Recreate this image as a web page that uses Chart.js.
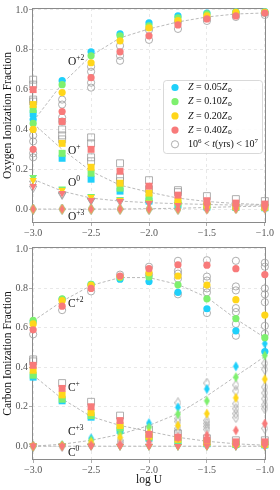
<!DOCTYPE html>
<html>
<head>
<meta charset="utf-8">
<script src="https://cdn.jsdelivr.net/npm/chart.js@4.4.1/dist/chart.umd.min.js"></script>
<style>
  html, body { margin: 0; padding: 0; background: #fff; }
  canvas { display: block; }
</style>
</head>
<body>
<canvas id="oxygen" width="280" height="240"></canvas>
<canvas id="carbon" width="280" height="250"></canvas>
<script>
'use strict';

// shared axes
var logU = [-3.0, -2.75, -2.5, -2.25, -2.0, -1.75, -1.5, -1.25, -1.0];
var xTicks = [-3.0, -2.5, -2.0, -1.5, -1.0];
var yTicks = [0.0, 0.2, 0.4, 0.6, 0.8, 1.0];
var zLabels = ['0.05', '0.10', '0.20', '0.40'];
var ageLabel = ['10', '6', '10', '7'];

// oxygen fractions, rows = Z 0.05, 0.10, 0.20, 0.40
var oxyO2 = [
    [0.45, 0.645, 0.79, 0.88, 0.935, 0.97, 0.985, 0.99, 0.992],
    [0.43, 0.625, 0.77, 0.87, 0.92, 0.96, 0.98, 0.99, 0.99],
    [0.40, 0.585, 0.735, 0.845, 0.91, 0.947, 0.97, 0.988, 0.99],
    [0.30, 0.49, 0.66, 0.79, 0.87, 0.925, 0.955, 0.97, 0.985]
];
var oxyO1 = [
    [0.48, 0.255, 0.15, 0.09, 0.04, 0.02, 0.01, 0.008, 0.006],
    [0.50, 0.28, 0.18, 0.105, 0.057, 0.03, 0.015, 0.01, 0.008],
    [0.525, 0.33, 0.21, 0.13, 0.08, 0.04, 0.02, 0.012, 0.01],
    [0.60, 0.44, 0.30, 0.19, 0.115, 0.07, 0.042, 0.03, 0.025]
];
var oxyO0 = [
    [0.16, 0.10, 0.065, 0.048, 0.035, 0.025, 0.018, 0.013, 0.01],
    [0.16, 0.103, 0.065, 0.048, 0.035, 0.025, 0.018, 0.013, 0.01],
    [0.145, 0.095, 0.06, 0.045, 0.032, 0.022, 0.016, 0.012, 0.01],
    [0.115, 0.08, 0.045, 0.04, 0.03, 0.02, 0.015, 0.01, 0.01]
];
var oxyO3 = [
    [0, 0, 0, 0, 0, 0, 0.002, 0.004, 0.006],
    [0, 0, 0, 0, 0, 0, 0.002, 0.003, 0.005],
    [0, 0, 0, 0, 0, 0, 0.001, 0.002, 0.004],
    [0, 0, 0, 0, 0, 0, 0, 0.002, 0.003]
];
// open markers, 10^6 < t < 10^7, one list per logU
var oxyO2Open = [[0.37, 0.34, 0.28, 0.26], [0.55, 0.525, 0.46, 0.44], [0.715, 0.69, 0.635, 0.61], [0.82, 0.77, 0.745], [0.90, 0.85], [0.94, 0.905], [0.96, 0.945], [0.98, 0.965], [0.985, 0.975]];
var oxyO1Open = [[0.65, 0.625, 0.55, 0.54], [0.40, 0.37, 0.35], [0.36, 0.33, 0.26, 0.24], [0.23, 0.16, 0.14], [0.145, 0.10], [0.095, 0.085], [0.065], [0.05], [0.04]];
var oxyO0Open = [[0.13, 0.105], [0.075, 0.07], [0.045, 0.042], [0.038], [0.03], [0.022], [0.018], [0.014], [0.012]];
var oxyO3Open = [[0], [0], [0], [0], [0], [0], [0.002], [0.004], [0.006]];
// dashed model curves
var oxyO2Model = [0.44, 0.63, 0.77, 0.86, 0.905, 0.94, 0.965, 0.98, 0.985];
var oxyO1Model = [0.43, 0.30, 0.19, 0.12, 0.085, 0.055, 0.038, 0.028, 0.022];
var oxyO0Model = [0.15, 0.09, 0.055, 0.04, 0.032, 0.027, 0.023, 0.02, 0.02];
var oxyO3Model = [0.0, 0.0, 0.0, 0.0, 0.002, 0.004, 0.008, 0.012, 0.015];

// carbon fractions
var carbC2 = [
    [0.63, 0.745, 0.82, 0.847, 0.835, 0.78, 0.697, 0.585, 0.48],
    [0.638, 0.747, 0.82, 0.855, 0.858, 0.818, 0.747, 0.647, 0.55],
    [0.62, 0.738, 0.815, 0.86, 0.88, 0.863, 0.817, 0.743, 0.665],
    [0.59, 0.71, 0.80, 0.863, 0.90, 0.92, 0.918, 0.90, 0.87]
];
var carbC1 = [
    [0.35, 0.23, 0.147, 0.08, 0.04, 0.025, 0.012, 0.008, 0.006],
    [0.36, 0.238, 0.155, 0.093, 0.045, 0.03, 0.015, 0.01, 0.008],
    [0.385, 0.26, 0.17, 0.105, 0.05, 0.035, 0.018, 0.012, 0.01],
    [0.41, 0.293, 0.20, 0.13, 0.06, 0.045, 0.03, 0.022, 0.022]
];
var carbC3 = [
    [0.0, 0.005, 0.04, 0.08, 0.117, 0.197, 0.29, 0.405, 0.52],
    [0.0, 0.004, 0.03, 0.065, 0.095, 0.163, 0.23, 0.35, 0.46],
    [0.0, 0.003, 0.02, 0.045, 0.067, 0.105, 0.165, 0.245, 0.34],
    [0.0, 0.0, 0.005, 0.01, 0.02, 0.045, 0.055, 0.08, 0.115]
];
var carbC0 = [
    [0.004, 0.002, 0.001, 0, 0, 0, 0, 0, 0],
    [0.004, 0.002, 0.001, 0, 0, 0, 0, 0, 0],
    [0.003, 0.002, 0.001, 0, 0, 0, 0, 0, 0],
    [0.003, 0.001, 0.001, 0, 0, 0, 0, 0, 0]
];
var carbC2Open = [[0.567], [0.69], [0.785], [0.87], [0.91, 0.87], [0.94, 0.89, 0.875, 0.85, 0.77], [0.943, 0.86, 0.84, 0.80, 0.78, 0.675], [0.94, 0.81, 0.79, 0.70, 0.68, 0.62, 0.56], [0.93, 0.91, 0.80, 0.77, 0.73, 0.61, 0.57]];
var carbC1Open = [[0.44, 0.43], [0.32], [0.225], [0.155], [0.085], [0.065], [0.04], [0.03], [0.03]];
var carbC3Open = [[0.0], [0.0], [0.01], [0.03, 0.02], [0.06, 0.045], [0.22, 0.14, 0.125, 0.09, 0.075], [0.32, 0.13, 0.115, 0.10, 0.085], [0.31, 0.28, 0.215, 0.19, 0.165, 0.145], [0.42, 0.39, 0.30, 0.27, 0.24, 0.21, 0.19, 0.09]];
var carbC0Open = [[0], [0], [0], [0], [0], [0], [0], [0], [0]];
var carbC2Model = [0.635, 0.735, 0.815, 0.855, 0.855, 0.82, 0.755, 0.645, 0.55];
var carbC1Model = [0.36, 0.24, 0.15, 0.105, 0.075, 0.045, 0.025, 0.012, 0.005];
var carbC3Model = [0.0, 0.01, 0.03, 0.06, 0.105, 0.165, 0.255, 0.355, 0.455];
var carbC0Model = [0, 0, 0, 0, 0, 0, 0, 0, 0];

// ion labels (superscript, y value) placed at logU = labelX
var labelX = -2.70;
var oxyIons = ['+2', '+', '0', '+3'];
var oxyLabelY = [0.74, 0.29, 0.13, -0.04];
var carbIons = ['+2', '+', '+3', '0'];
var carbLabelY = [0.72, 0.295, 0.07, -0.035];

var SERIF = '"Liberation Serif", "DejaVu Serif", serif';
var zColors = ['#1fd0fa', '#7ef06e', '#ffd61a', '#f87a7a'];
var openColor = '#9b9b9b';

function diamond(fill, stroke) {
    var c = document.createElement('canvas');
    c.width = 7;
    c.height = 11;
    var g = c.getContext('2d');
    g.beginPath();
    g.moveTo(3.5, 0.6);
    g.lineTo(6.4, 5.5);
    g.lineTo(3.5, 10.4);
    g.lineTo(0.6, 5.5);
    g.closePath();
    if (fill) { g.fillStyle = fill; g.fill(); }
    if (stroke) { g.strokeStyle = stroke; g.lineWidth = 0.8; g.stroke(); }
    return c;
}

function markerStyle(shape, fill, stroke) {
    if (shape === 'circle') return {pointStyle: 'circle', pointRadius: 3.6, pointRotation: 0};
    if (shape === 'square') return {pointStyle: 'rect', pointRadius: 4.9, pointRotation: 0};
    if (shape === 'tri') return {pointStyle: 'triangle', pointRadius: 4.3, pointRotation: 180};
    return {pointStyle: diamond(fill, stroke), pointRadius: 4, pointRotation: 0};
}

function pts(vals) {
    return vals.map(function (v, i) { return {x: logU[i], y: v}; });
}

function openPts(lists) {
    var out = [];
    lists.forEach(function (l, i) {
        l.forEach(function (v) { out.push({x: logU[i], y: v}); });
    });
    return out;
}

function buildDatasets(ions) {
    var ds = [];
    ions.forEach(function (ion) {
        ds.push({
            data: pts(ion.model), showLine: true, pointRadius: 0,
            borderColor: '#a8a8a8', borderWidth: 0.8, borderDash: [3, 2],
            order: 30, clip: false
        });
        var o = markerStyle(ion.shape, null, openColor);
        ds.push(Object.assign({
            data: openPts(ion.open), backgroundColor: 'rgba(255,255,255,0)',
            borderColor: openColor, borderWidth: 0.8, order: 20, clip: false
        }, o));
        ion.rows.forEach(function (row, k) {
            var m = markerStyle(ion.shape, zColors[k], null);
            ds.push(Object.assign({
                data: pts(row), backgroundColor: zColors[k], borderWidth: 0,
                order: 10 - k, clip: false
            }, m));
        });
    });
    return ds;
}

function drawRuns(ctx, x, y, runs) {
    runs.forEach(function (r) {
        ctx.font = (r.italic ? 'italic ' : '') + r.size + 'px ' + SERIF;
        ctx.fillText(r.t, x, y - (r.dy || 0));
        x += ctx.measureText(r.t).width;
    });
    return x;
}

var framePlugin = {
    id: 'frame',
    beforeDatasetsDraw: function (chart) {
        var a = chart.chartArea, ctx = chart.ctx;
        ctx.save();
        ctx.strokeStyle = '#8a8a8a';
        ctx.lineWidth = 1;
        ctx.strokeRect(a.left + 0.5, a.top + 0.5, a.right - a.left - 1, a.bottom - a.top - 1);
        ctx.restore();
    }
};

var ionLabelPlugin = {
    id: 'ionLabels',
    afterDatasetsDraw: function (chart, args, opts) {
        var ctx = chart.ctx, xs = chart.scales.x, ys = chart.scales.y;
        ctx.save();
        ctx.fillStyle = '#111';
        ctx.textBaseline = 'middle';
        ctx.textAlign = 'left';
        opts.ions.forEach(function (sup, i) {
            var px = xs.getPixelForValue(labelX);
            var py = ys.getPixelForValue(opts.ys[i]);
            drawRuns(ctx, px, py, [{t: opts.element, size: 11.5}, {t: sup, size: 7.5, dy: 4}]);
        });
        ctx.restore();
    }
};

var legendPlugin = {
    id: 'zLegend',
    afterDraw: function (chart, args, opts) {
        if (!opts.show) return;
        var a = chart.chartArea, ctx = chart.ctx;
        var w = 99, h = 73;
        var left = a.right - 4 - w, top = a.top + 72;
        ctx.save();
        ctx.beginPath();
        ctx.roundRect(left + 0.5, top + 0.5, w, h, 3);
        ctx.fillStyle = 'rgba(255,255,255,0.85)';
        ctx.fill();
        ctx.strokeStyle = '#cfcfcf';
        ctx.lineWidth = 0.8;
        ctx.stroke();
        ctx.textBaseline = 'middle';
        ctx.textAlign = 'left';
        ctx.fillStyle = '#111';
        var mx = left + 12, tx = left + 25;
        zLabels.forEach(function (z, k) {
            var y = top + 7.5 + k * 14.2;
            ctx.beginPath();
            ctx.arc(mx, y, 3.6, 0, Math.PI * 2);
            ctx.fillStyle = zColors[k];
            ctx.fill();
            ctx.fillStyle = '#111';
            drawRuns(ctx, tx, y, [
                {t: 'Z', size: 10, italic: true}, {t: ' = ' + z, size: 10},
                {t: 'Z', size: 10, italic: true}, {t: '\u2299', size: 6, dy: -2.5}
            ]);
        });
        var y5 = top + 7.5 + 4 * 14.2;
        ctx.beginPath();
        ctx.arc(mx, y5, 3.6, 0, Math.PI * 2);
        ctx.strokeStyle = openColor;
        ctx.lineWidth = 0.8;
        ctx.stroke();
        drawRuns(ctx, tx, y5, [
            {t: ageLabel[0], size: 10}, {t: ageLabel[1], size: 7, dy: 3.5},
            {t: ' < ', size: 10}, {t: 't', size: 10, italic: true},
            {t: '(yrs) < ' + ageLabel[2], size: 10}, {t: ageLabel[3], size: 7, dy: 3.5}
        ]);
        ctx.restore();
    }
};

function makePanel(id, ions, yTitle, showXTitle, xAxisHeight, padTop, labels, showLegend) {
    var tickFont = {family: SERIF, size: 10};
    return new Chart(document.getElementById(id).getContext('2d'), {
        type: 'scatter',
        data: {datasets: buildDatasets(ions)},
        plugins: [framePlugin, ionLabelPlugin, legendPlugin],
        options: {
            responsive: false,
            animation: false,
            events: [],
            layout: {padding: {top: padTop, right: 14, left: 0, bottom: 0}},
            plugins: {
                legend: {display: false},
                tooltip: {enabled: false},
                ionLabels: labels,
                zLegend: {show: showLegend}
            },
            scales: {
                x: {
                    type: 'linear', min: -3.01, max: -0.99,
                    afterBuildTicks: function (s) { s.ticks = xTicks.map(function (v) { return {value: v}; }); },
                    afterFit: function (s) { s.height = xAxisHeight; },
                    grid: {color: '#e2e2e2', lineWidth: 0.8, tickColor: '#999', tickLength: 3, tickWidth: 0.8},
                    border: {display: false, dash: [3, 3]},
                    ticks: {
                        font: tickFont, color: '#555', padding: 1, maxRotation: 0,
                        callback: function (v) { return v.toFixed(1).replace('-', '\u2212'); }
                    },
                    title: {
                        display: showXTitle, text: 'log U', color: '#111',
                        font: {family: SERIF, size: 11.5}, padding: {top: 0, bottom: 3}
                    }
                },
                y: {
                    type: 'linear', min: -0.07, max: 1.01,
                    afterBuildTicks: function (s) { s.ticks = yTicks.map(function (v) { return {value: v}; }); },
                    afterFit: function (s) { s.width = 32; },
                    grid: {color: '#e2e2e2', lineWidth: 0.8, tickColor: '#999', tickLength: 3, tickWidth: 0.8},
                    border: {display: false, dash: [3, 3]},
                    ticks: {
                        font: tickFont, color: '#555', padding: 1,
                        callback: function (v) { return v.toFixed(1); }
                    },
                    title: {
                        display: true, text: yTitle, color: '#111',
                        font: {family: SERIF, size: 11.5}, padding: {top: 1, bottom: 0}
                    }
                }
            }
        }
    });
}

makePanel('oxygen', [
    {shape: 'circle', rows: oxyO2, open: oxyO2Open, model: oxyO2Model},
    {shape: 'square', rows: oxyO1, open: oxyO1Open, model: oxyO1Model},
    {shape: 'tri', rows: oxyO0, open: oxyO0Open, model: oxyO0Model},
    {shape: 'diamond', rows: oxyO3, open: oxyO3Open, model: oxyO3Model}
], 'Oxygen Ionization Fraction', false, 17, 8,
    {element: 'O', ions: oxyIons, ys: oxyLabelY}, true);

makePanel('carbon', [
    {shape: 'tri', rows: carbC0, open: carbC0Open, model: carbC0Model},
    {shape: 'circle', rows: carbC2, open: carbC2Open, model: carbC2Model},
    {shape: 'square', rows: carbC1, open: carbC1Open, model: carbC1Model},
    {shape: 'diamond', rows: carbC3, open: carbC3Open, model: carbC3Model}
], 'Carbon Ionization Fraction', true, 30, 4,
    {element: 'C', ions: carbIons, ys: carbLabelY}, false);
</script>
</body>
</html>
